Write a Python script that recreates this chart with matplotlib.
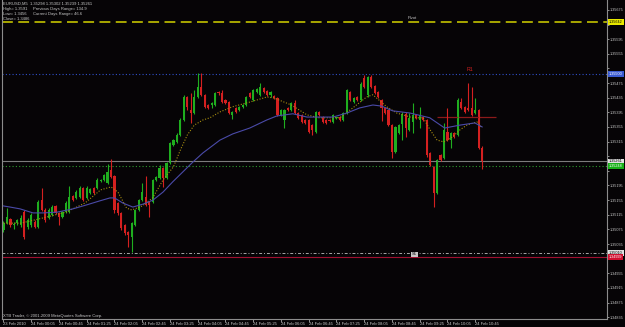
import matplotlib
matplotlib.use('Agg')
import matplotlib.pyplot as plt
import matplotlib.transforms as mtransforms
import numpy as np

# EURUSD M5, one bar every 5 min from 23 Feb 23:25 to 24 Feb 10:55
opens = [1.35073, 1.35092, 1.35103, 1.35087, 1.35092, 1.35087, 1.35122, 1.35081, 1.35087, 1.35095,
         1.35081, 1.35155, 1.35128, 1.35106, 1.35114, 1.35139, 1.35120, 1.35109, 1.35122, 1.35122,
         1.35166, 1.35161, 1.35163, 1.35188, 1.35161, 1.35174, 1.35188, 1.35188, 1.35207, 1.35210,
         1.35202, 1.35237, 1.35221, 1.35147, 1.35120, 1.35087, 1.35068, 1.35054, 1.35087, 1.35128,
         1.35155, 1.35163, 1.35150, 1.35150, 1.35210, 1.35216, 1.35243, 1.35216, 1.35257, 1.35306,
         1.35314, 1.35333, 1.35374, 1.35437, 1.35402, 1.35393, 1.35437, 1.35464, 1.35443, 1.35415,
         1.35415, 1.35415, 1.35451, 1.35448, 1.35429, 1.35423, 1.35388, 1.35407, 1.35402, 1.35410,
         1.35415, 1.35448, 1.35429, 1.35451, 1.35443, 1.35462, 1.35453, 1.35443, 1.35440, 1.35434,
         1.35388, 1.35374, 1.35407, 1.35402, 1.35421, 1.35393, 1.35388, 1.35374, 1.35374, 1.35360,
         1.35341, 1.35396, 1.35382, 1.35374, 1.35374, 1.35369, 1.35380, 1.35382, 1.35374, 1.35393,
         1.35451, 1.35423, 1.35437, 1.35429, 1.35489, 1.35443, 1.35492, 1.35467, 1.35451, 1.35429,
         1.35407, 1.35402, 1.35360, 1.35287, 1.35339, 1.35363, 1.35391, 1.35347, 1.35369, 1.35388,
         1.35374, 1.35382, 1.35374, 1.35284, 1.35246, 1.35174, 1.35278, 1.35270, 1.35341, 1.35319,
         1.35339, 1.35333, 1.35423, 1.35410, 1.35407, 1.35407, 1.35393, 1.35402, 1.35298]
highs = [1.35098, 1.35133, 1.35106, 1.35095, 1.35103, 1.35114, 1.35128, 1.35106, 1.35120, 1.35101,
         1.35155, 1.35188, 1.35133, 1.35133, 1.35142, 1.35142, 1.35122, 1.35125, 1.35153, 1.35194,
         1.35169, 1.35183, 1.35194, 1.35191, 1.35194, 1.35188, 1.35191, 1.35216, 1.35213, 1.35226,
         1.35254, 1.35267, 1.35224, 1.35150, 1.35122, 1.35090, 1.35070, 1.35095, 1.35131, 1.35158,
         1.35202, 1.35221, 1.35153, 1.35213, 1.35221, 1.35251, 1.35246, 1.35259, 1.35314, 1.35322,
         1.35339, 1.35380, 1.35443, 1.35440, 1.35448, 1.35456, 1.35503, 1.35503, 1.35445, 1.35418,
         1.35423, 1.35451, 1.35453, 1.35456, 1.35432, 1.35426, 1.35399, 1.35410, 1.35412, 1.35418,
         1.35440, 1.35451, 1.35459, 1.35462, 1.35475, 1.35464, 1.35456, 1.35453, 1.35443, 1.35437,
         1.35404, 1.35404, 1.35410, 1.35423, 1.35429, 1.35396, 1.35391, 1.35377, 1.35377, 1.35363,
         1.35399, 1.35399, 1.35385, 1.35377, 1.35377, 1.35391, 1.35382, 1.35385, 1.35396, 1.35459,
         1.35453, 1.35437, 1.35440, 1.35478, 1.35497, 1.35495, 1.35497, 1.35470, 1.35453, 1.35432,
         1.35410, 1.35404, 1.35363, 1.35358, 1.35363, 1.35396, 1.35396, 1.35393, 1.35421, 1.35391,
         1.35410, 1.35385, 1.35377, 1.35287, 1.35248, 1.35267, 1.35281, 1.35366, 1.35407, 1.35341,
         1.35341, 1.35434, 1.35434, 1.35412, 1.35475, 1.35464, 1.35434, 1.35404, 1.35302]
lows = [1.35068, 1.35090, 1.35081, 1.35076, 1.35087, 1.35081, 1.35049, 1.35076, 1.35081, 1.35079,
        1.35079, 1.35125, 1.35095, 1.35103, 1.35112, 1.35117, 1.35087, 1.35106, 1.35120, 1.35120,
        1.35153, 1.35158, 1.35161, 1.35153, 1.35158, 1.35172, 1.35172, 1.35185, 1.35205, 1.35207,
        1.35199, 1.35216, 1.35120, 1.35114, 1.35073, 1.35060, 1.35027, 1.35013, 1.35084, 1.35125,
        1.35153, 1.35139, 1.35109, 1.35147, 1.35207, 1.35213, 1.35191, 1.35213, 1.35254, 1.35303,
        1.35311, 1.35330, 1.35371, 1.35402, 1.35366, 1.35391, 1.35434, 1.35440, 1.35407, 1.35404,
        1.35407, 1.35412, 1.35443, 1.35421, 1.35418, 1.35391, 1.35377, 1.35393, 1.35399, 1.35407,
        1.35412, 1.35434, 1.35426, 1.35448, 1.35440, 1.35448, 1.35440, 1.35437, 1.35432, 1.35385,
        1.35385, 1.35352, 1.35399, 1.35399, 1.35391, 1.35377, 1.35366, 1.35363, 1.35339, 1.35333,
        1.35339, 1.35385, 1.35366, 1.35363, 1.35369, 1.35366, 1.35377, 1.35371, 1.35371, 1.35391,
        1.35426, 1.35421, 1.35426, 1.35426, 1.35462, 1.35437, 1.35462, 1.35445, 1.35434, 1.35371,
        1.35391, 1.35358, 1.35270, 1.35284, 1.35336, 1.35319, 1.35328, 1.35344, 1.35339, 1.35377,
        1.35352, 1.35371, 1.35273, 1.35248, 1.35136, 1.35172, 1.35262, 1.35267, 1.35317, 1.35298,
        1.35325, 1.35330, 1.35404, 1.35393, 1.35399, 1.35385, 1.35391, 1.35295, 1.35239]
closes = [1.35092, 1.35109, 1.35087, 1.35090, 1.35101, 1.35106, 1.35054, 1.35101, 1.35114, 1.35081,
          1.35150, 1.35128, 1.35101, 1.35128, 1.35136, 1.35120, 1.35109, 1.35122, 1.35147, 1.35163,
          1.35155, 1.35177, 1.35188, 1.35155, 1.35188, 1.35185, 1.35174, 1.35210, 1.35210, 1.35224,
          1.35232, 1.35218, 1.35128, 1.35120, 1.35079, 1.35065, 1.35060, 1.35092, 1.35128, 1.35155,
          1.35177, 1.35142, 1.35142, 1.35210, 1.35218, 1.35243, 1.35216, 1.35257, 1.35311, 1.35319,
          1.35333, 1.35374, 1.35437, 1.35410, 1.35393, 1.35437, 1.35464, 1.35443, 1.35410, 1.35407,
          1.35421, 1.35448, 1.35448, 1.35423, 1.35421, 1.35393, 1.35396, 1.35396, 1.35410, 1.35415,
          1.35437, 1.35437, 1.35456, 1.35459, 1.35464, 1.35451, 1.35443, 1.35451, 1.35434, 1.35388,
          1.35402, 1.35402, 1.35402, 1.35421, 1.35393, 1.35380, 1.35369, 1.35366, 1.35341, 1.35347,
          1.35396, 1.35388, 1.35369, 1.35366, 1.35371, 1.35388, 1.35381, 1.35374, 1.35393, 1.35456,
          1.35429, 1.35434, 1.35429, 1.35473, 1.35464, 1.35492, 1.35464, 1.35448, 1.35437, 1.35407,
          1.35393, 1.35360, 1.35287, 1.35355, 1.35360, 1.35391, 1.35352, 1.35380, 1.35388, 1.35380,
          1.35388, 1.35374, 1.35278, 1.35251, 1.35174, 1.35265, 1.35265, 1.35347, 1.35319, 1.35339,
          1.35328, 1.35429, 1.35407, 1.35396, 1.35402, 1.35388, 1.35402, 1.35298, 1.35261]

# moving averages (bar number, price)
fast_ma_bars = [0, 5, 10, 18, 23.5, 28, 31, 33, 35.5, 37, 40, 43, 46, 49, 51, 53, 55, 57.5,
                59.5, 62.4, 66, 71, 76, 78, 83, 87.5, 91, 97, 100.7, 104.7, 106.5, 110.5,
                113.4, 118, 121, 123, 125, 127, 129.5, 131.6, 133.6, 136.5, 138]
fast_ma = [1.35092, 1.35092, 1.35103, 1.35122, 1.35147, 1.35183, 1.35191, 1.35177, 1.35133,
           1.35128, 1.35139, 1.35161, 1.35210, 1.35246, 1.35292, 1.35333, 1.35360, 1.35374,
           1.35380, 1.35396, 1.35410, 1.35423, 1.35437, 1.35434, 1.35415, 1.35388, 1.35380,
           1.35380, 1.35407, 1.35437, 1.35443, 1.35410, 1.35393, 1.35380, 1.35380, 1.35347,
           1.35319, 1.35314, 1.35328, 1.35347, 1.35360, 1.35369, 1.35352]
slow_ma_bars = [0, 1.9, 4.8, 8.5, 11.4, 15.4, 20, 24, 27.8, 30.7, 32, 34.4, 37.3, 40.2, 43.1,
                46, 48.8, 51.7, 54.6, 57.5, 62.4, 66.1, 71, 75.9, 78.8, 83.4, 87.5, 95, 99,
                102.7, 106.5, 109, 112.2, 117.2, 122.9, 127.2, 131.6, 135.9, 138]
slow_ma = [1.35139, 1.35136, 1.35131, 1.35120, 1.35120, 1.35122, 1.35131, 1.35142, 1.35153,
           1.35161, 1.35161, 1.35147, 1.35136, 1.35144, 1.35155, 1.35177, 1.35205, 1.35232,
           1.35259, 1.35284, 1.35319, 1.35336, 1.35352, 1.35374, 1.35385, 1.35391, 1.35382,
           1.35382, 1.35393, 1.35407, 1.35415, 1.35412, 1.35399, 1.35393, 1.35380, 1.35352,
           1.35360, 1.35366, 1.35355]

time_labels = ['23 Feb 2010', '24 Feb 00:05', '24 Feb 00:45', '24 Feb 01:25', '24 Feb 02:05',
               '24 Feb 02:45', '24 Feb 03:25', '24 Feb 04:05', '24 Feb 04:45', '24 Feb 05:25',
               '24 Feb 06:05', '24 Feb 06:45', '24 Feb 07:25', '24 Feb 08:05', '24 Feb 08:45',
               '24 Feb 09:25', '24 Feb 10:05', '24 Feb 10:45']
BARS_PER_LABEL = 8

# horizontal levels
PIVOT = 1.35642
R1 = 1.35500
BID = 1.35261
ASK_LINE = 1.35248
S1 = 1.35010
DAY_LOW = 1.34999
OPEN_LEVEL = 1.35382

header = ['EURUSD,M5  1.35298 1.35302 1.35239 1.35261',
          'High= 1.3591', 'Low= 1.3456', 'Close= 1.3486']
header_right = ['Previous Days Range= 134.9', 'Current Days Range= 46.6']

BG = '#060406'
FG = '#c8c8c8'
UP = '#1fae1f'
DOWN = '#d42020'
FS = 3.0      # general small terminal font
FS_Y = 2.7    # price scale

plt.rcParams['font.family'] = ['Liberation Sans', 'DejaVu Sans']

fig = plt.figure(figsize=(6.25, 3.27), dpi=100, facecolor=BG)
ax = fig.add_axes([2 / 625, 8 / 327, 605 / 625, 319 / 327])
ax.set_facecolor(BG)

o = np.array(opens)
h = np.array(highs)
l = np.array(lows)
c = np.array(closes)
x = np.arange(len(o))
colors = np.where(c >= o, UP, DOWN)

# horizontal levels first so candles sit on top
ax.axhline(PIVOT, color='#b4b400', lw=1.3, ls=(0, (6, 3)))
ax.axhline(R1, color='#3050c8', lw=0.8, ls=(0, (1, 2)))
ax.axhline(BID, color='#7c7c7c', lw=0.8)
ax.axhline(ASK_LINE, color='#2c9c2c', lw=0.8, ls=(0, (1, 2)))
ax.axhline(S1, color='#a8a8a8', lw=0.7, ls=(0, (3, 2, 1, 2)))
ax.axhline(DAY_LOW, color='#a01030', lw=0.8)
ax.hlines(OPEN_LEVEL, 125, 142, color='#8b1a1a', lw=0.9)

# candles
ax.vlines(x, l, h, colors=colors, lw=0.8)
body = np.maximum(np.abs(c - o), 0.00003)
ax.bar(x, body, bottom=np.minimum(o, c), width=0.62, color=colors, linewidth=0)

# moving averages
ax.plot(fast_ma_bars, fast_ma, color='#a88e10', lw=0.8, ls=(0, (1, 1.5)))
ax.plot(slow_ma_bars, slow_ma, color='#4a4aa8', lw=0.8)

ax.set_xlim(-0.43, 174.0)
ax.set_ylim(1.34830, 1.35702)

boxes = [(PIVOT, '#e8e800', 'black'), (R1, '#3a5ad0', 'white'), (BID, '#e0e0e0', 'black'),
         (ASK_LINE, '#18b018', 'white'), (S1, '#e0e0e0', 'black'), (DAY_LOW, '#d01030', 'white')]

# price scale on the right, labels under a highlighted box are hidden like in the terminal
ax.yaxis.tick_right()
yt = np.arange(1.34835, 1.35680, 0.0004)
ax.set_yticks(yt)
ylabels = []
for v in yt:
    hidden = any(abs(v - b[0]) < 0.00022 for b in boxes)
    ylabels.append('' if hidden else f'{v:.5f}')
ax.set_yticklabels(ylabels)
ax.tick_params(axis='y', colors=FG, labelsize=FS_Y, length=1.5, width=0.5, pad=0.6)

# time scale
xt = np.arange(len(time_labels)) * BARS_PER_LABEL
ax.set_xticks(xt)
ax.set_xticklabels(time_labels)
for lab in ax.get_xticklabels():
    lab.set_horizontalalignment('left')
ax.tick_params(axis='x', colors=FG, labelsize=FS, length=2, width=0.5, pad=0.5)

for side in ['left', 'bottom', 'right']:
    ax.spines[side].set_color('#8c8c8c')
    ax.spines[side].set_linewidth(0.8)
ax.spines['top'].set_visible(False)

# highlighted price labels on the scale
trans = mtransforms.blended_transform_factory(ax.transAxes, ax.transData)
for price, fc, tc in boxes:
    ax.text(1.0035, price, f'{price:.5f}', transform=trans, fontsize=FS_Y, color=tc,
            va='center', ha='left', clip_on=False,
            bbox=dict(boxstyle='square,pad=0.2', fc=fc, ec='none'))

# level names
ax.text(118, PIVOT + 0.00004, 'Pivot', fontsize=FS, color=FG, ha='center', va='bottom')
ax.text(134.5, R1 + 0.00004, 'R1', fontsize=FS + 0.8, color='#d02020', ha='center', va='bottom')
ax.text(118.5, S1 - 0.00003, 'S1', fontsize=FS, color='black', ha='center', va='center',
        bbox=dict(boxstyle='square,pad=0.15', fc='#c8c8c8', ec='none'))

# header info, top left
ys = [4, 9, 14, 19]
for yy, txt in zip(ys, header):
    fig.text(3 / 625, 1 - yy / 327, txt, fontsize=FS, color=FG, va='center', ha='left')
for yy, txt in zip(ys[1:3], header_right):
    fig.text(33 / 625, 1 - yy / 327, txt, fontsize=FS, color=FG, va='center', ha='left')

fig.text(3 / 625, 1 - 316 / 327, 'XTB Trader, \u00a9 2001-2009 MetaQuotes Software Corp.',
         fontsize=FS, color=FG, va='center', ha='left')

fig.savefig('out.png', dpi=100, facecolor=BG)
